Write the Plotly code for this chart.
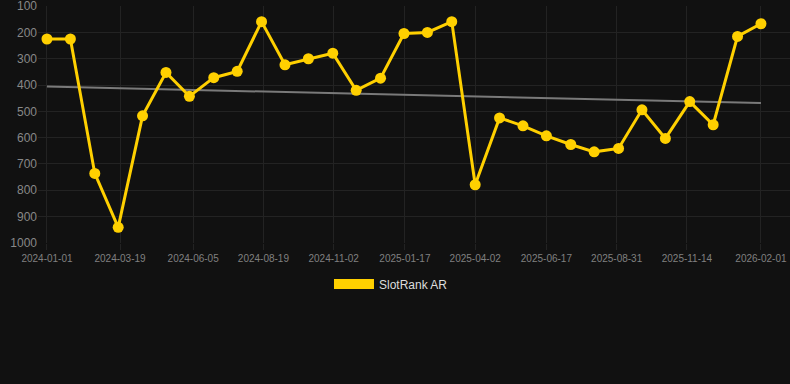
import plotly.graph_objects as go

dates = ["2024-01-01", "2024-01-26", "2024-02-21", "2024-03-17", "2024-04-12", "2024-05-07",
         "2024-06-01", "2024-06-27", "2024-07-22", "2024-08-17", "2024-09-11", "2024-10-06",
         "2024-11-01", "2024-11-26", "2024-12-22", "2025-01-16", "2025-02-10", "2025-03-08",
         "2025-04-02", "2025-04-28", "2025-05-23", "2025-06-17", "2025-07-13", "2025-08-07",
         "2025-09-02", "2025-09-27", "2025-10-22", "2025-11-17", "2025-12-12", "2026-01-07",
         "2026-02-01"]
ranks = [225, 225, 736, 941, 517, 352, 443, 372, 348, 159, 323, 300, 279, 420, 374,
         204, 200, 159, 779, 525, 555, 593, 626, 654, 641, 494, 603, 463, 551, 215, 167]

trend_dates = ["2024-01-01", "2026-02-01"]
trend_values = [406, 468]

x_ticks = ["2024-01-01", "2024-03-19", "2024-06-05", "2024-08-19", "2024-11-02", "2025-01-17",
           "2025-04-02", "2025-06-17", "2025-08-31", "2025-11-14", "2026-02-01"]
y_ticks = [100, 200, 300, 400, 500, 600, 700, 800, 900, 1000]

GOLD = "#FFD000"
GRID = "#232323"

fig = go.Figure()
fig.add_trace(go.Scatter(x=trend_dates, y=trend_values, mode="lines",
                         line=dict(color="#7a7a7a", width=2), showlegend=False,
                         hoverinfo="skip"))
fig.add_trace(go.Scatter(x=dates, y=ranks, mode="lines+markers", name="SlotRank AR",
                         line=dict(color=GOLD, width=3),
                         marker=dict(color=GOLD, size=11), showlegend=False))
fig.add_trace(go.Scatter(x=[None], y=[None], mode="lines", name="SlotRank AR",
                         line=dict(color=GOLD, width=11), showlegend=True))

fig.update_layout(
    width=790, height=384,
    margin=dict(l=38, r=0, t=6, b=141),
    paper_bgcolor="#111111", plot_bgcolor="#111111",
    font=dict(family="Liberation Sans, Arial, sans-serif", color="#888888"),
    showlegend=True,
    legend=dict(orientation="h", x=0.4694, xanchor="center", y=-0.173, yanchor="middle",
                font=dict(size=12, color="#dddddd"), bgcolor="rgba(0,0,0,0)",
                itemwidth=40),
    xaxis=dict(type="date", range=["2023-12-22 10:00", "2026-03-04"],
               tickvals=x_ticks, ticktext=x_ticks, tickfont=dict(size=10, color="#808080"),
               showgrid=True, gridcolor=GRID, gridwidth=1, zeroline=False,
               ticks="outside", ticklen=6, tickcolor=GRID, showline=False,
               ticklabeloverflow="allow"),
    yaxis=dict(range=[1000.5, 99.5], tickvals=y_ticks, tickfont=dict(size=12, color="#888888"),
               showgrid=True, gridcolor=GRID, gridwidth=1, zeroline=False,
               ticks="", showline=False, ticklabeloverflow="allow"),
)

fig.write_html("out.html", config={"displayModeBar": False},
               post_script="document.body.style.margin='0';document.body.style.background='#111111';")
